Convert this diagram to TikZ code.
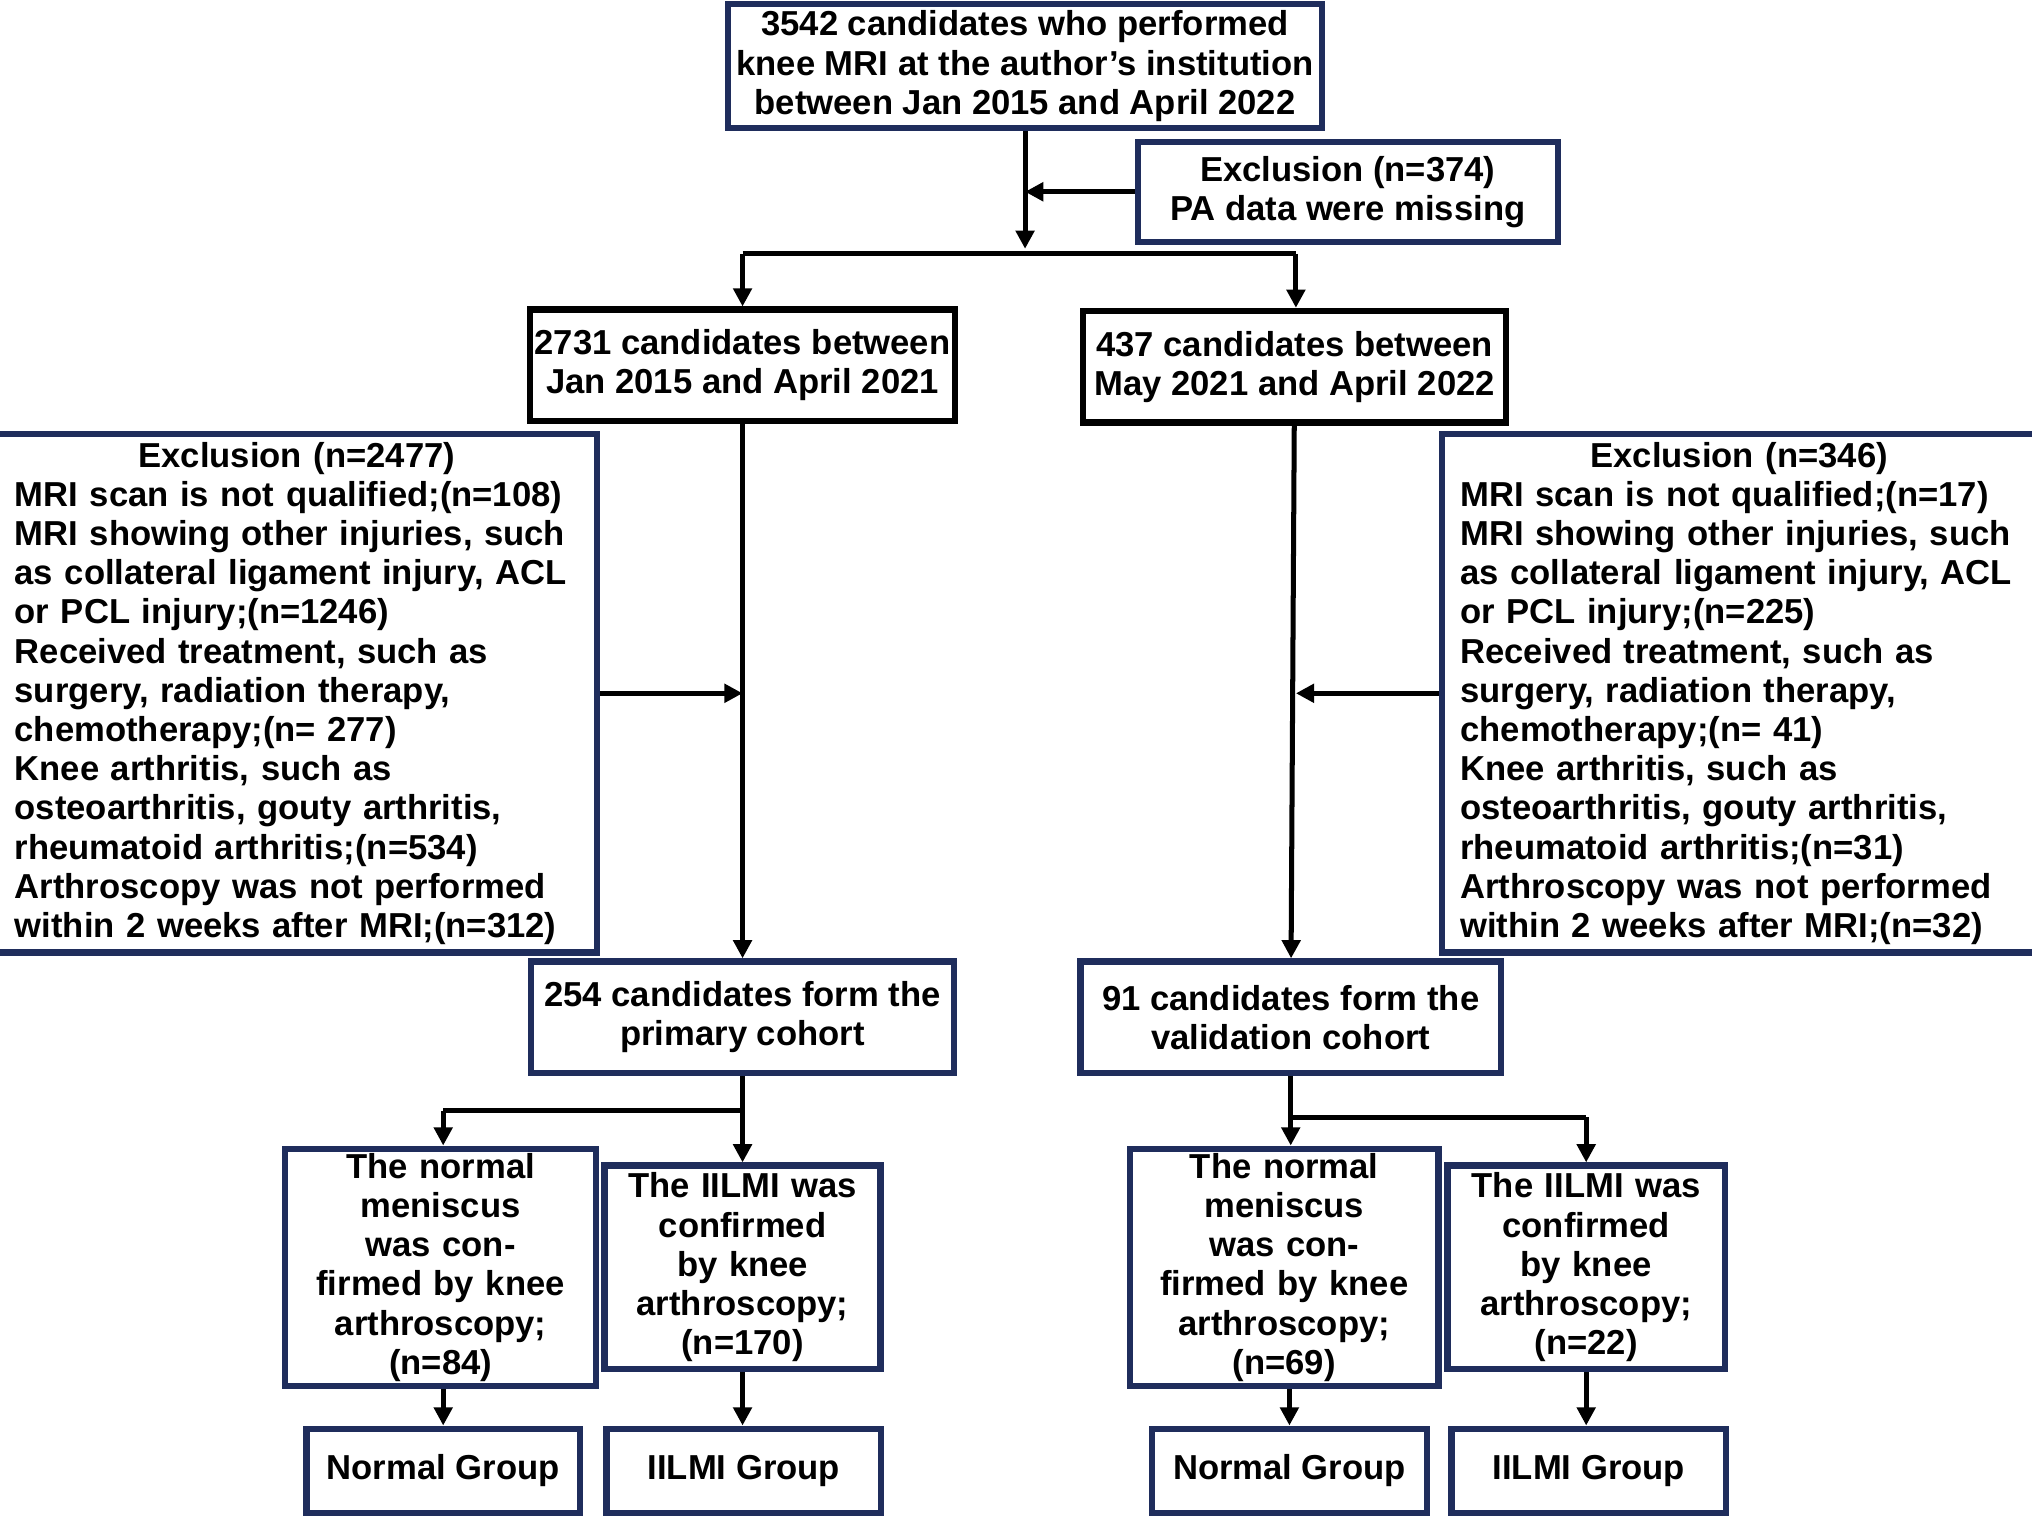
\documentclass[tikz,border=0pt]{standalone}
\usepackage{fontspec}
\setmainfont{Liberation Sans}
\usetikzlibrary{arrows.meta}
\definecolor{navy}{HTML}{1F2D5C}
\tikzset{box/.style={rectangle, draw=navy, line width=1.4pt, font=\fontsize{7.6}{8.6}\selectfont\bfseries, align=center, inner sep=1pt}}
\tikzset{lbox/.style={box, align=left, inner xsep=4pt}}
\tikzset{arr/.style={line width=1.1pt, -{Triangle[length=4pt,width=4pt]}}}
\tikzset{ln/.style={line width=1.1pt}}
\begin{document}
\begin{tikzpicture}[x=0.01cm,y=-0.01cm]
  \useasboundingbox (0,0) rectangle (1568,1171);

  \node[box, minimum width=4.58cm, minimum height=0.96cm] (top) at (791,51)
    {3542 candidates who performed\\knee MRI at the author's institution\\between Jan 2015 and April 2022};
  \node[box, minimum width=3.24cm, minimum height=0.77cm] (excl) at (1040,148)
    {Exclusion (n=374)\\PA data were missing};
  \node[box, draw=black, minimum width=3.26cm, minimum height=0.86cm] (early) at (573,282)
    {2731 candidates between\\Jan 2015 and April 2021};
  \node[box, draw=black, minimum width=3.26cm, minimum height=0.86cm] (late) at (999,283)
    {437 candidates between\\May 2021 and April 2022};

  \node[lbox, text width=4.35cm, minimum height=4.0cm] (exL) at (229,535)
    {\centering Exclusion (n=2477)\par\raggedright
     MRI scan is not qualified;(n=108)\\
     MRI showing other injuries, such as collateral ligament injury, ACL or PCL injury;(n=1246)\\
     Received treatment, such as surgery, radiation therapy, chemotherapy;(n= 277)\\
     Knee arthritis, such as osteoarthritis, gouty arthritis, rheumatoid arthritis;(n=534)\\
     Arthroscopy was not performed within 2 weeks after MRI;(n=312)};
  \node[lbox, text width=4.3cm, minimum height=4.0cm] (exR) at (1342,535)
    {\centering Exclusion (n=346)\par\raggedright
     MRI scan is not qualified;(n=17)\\
     MRI showing other injuries, such as collateral ligament injury, ACL or PCL injury;(n=225)\\
     Received treatment, such as surgery, radiation therapy, chemotherapy;(n= 41)\\
     Knee arthritis, such as osteoarthritis, gouty arthritis, rheumatoid arthritis;(n=31)\\
     Arthroscopy was not performed within 2 weeks after MRI;(n=32)};

  \node[box, minimum width=3.26cm, minimum height=0.86cm] (prim) at (573,785)
    {254 candidates form the\\primary cohort};
  \node[box, minimum width=3.24cm, minimum height=0.86cm] (valid) at (996,785)
    {91 candidates form the\\validation cohort};

  \node[box, text width=2.3cm, minimum width=2.4cm, minimum height=1.57cm] (pnorm) at (340,978)
    {The normal meniscus was confirmed by knee arthroscopy;\\(n=84)};
  \node[box, text width=2.0cm, minimum width=2.13cm, minimum height=1.57cm] (pilm) at (573,978)
    {The IILMI was confirmed by knee arthroscopy;\\(n=170)};
  \node[box, text width=2.3cm, minimum width=2.38cm, minimum height=1.57cm] (vnorm) at (991,978)
    {The normal meniscus was confirmed by knee arthroscopy;\\(n=69)};
  \node[box, text width=2.0cm, minimum width=2.14cm, minimum height=1.57cm] (vilm) at (1224,978)
    {The IILMI was confirmed by knee arthroscopy;\\(n=22)};

  \node[box, minimum width=2.11cm, minimum height=0.65cm] (png) at (342,1135) {Normal Group};
  \node[box, minimum width=2.12cm, minimum height=0.65cm] (pig) at (574,1135) {IILMI Group};
  \node[box, minimum width=2.12cm, minimum height=0.65cm] (vng) at (995,1135) {Normal Group};
  \node[box, minimum width=2.12cm, minimum height=0.65cm] (vig) at (1226,1135) {IILMI Group};

  % split after first exclusion
  \coordinate (m1) at (791,192);
  \coordinate (sL) at (573,196);
  \coordinate (sR) at (1000,196);
  \draw[arr] (top) -- (m1);
  \draw[arr] (excl.west) -- (791,148);
  \draw[ln] (sL) -- (sR);
  \draw[arr] (sL) -- (early.north);
  \draw[arr] (sR) -- (sR |- late.north);

  % cohorts
  \draw[arr] (early) -- (prim);
  \draw[arr] (late) -- (valid);
  \draw[arr] (exL.east) -- (573,535);
  \draw[arr] (exR.west) -- (1000,535);

  % groups
  \coordinate (pL) at (342,857);
  \coordinate (pR) at (573,857);
  \coordinate (vL) at (996,862);
  \coordinate (vR) at (1224,862);
  \draw[ln] (prim.south) -- (pR) -- (pL);
  \draw[arr] (pL) -- (pL |- pnorm.north);
  \draw[arr] (pR) -- (pilm.north);
  \draw[ln] (valid.south) -- (vL) -- (vR);
  \draw[arr] (vL) -- (vL |- vnorm.north);
  \draw[arr] (vR) -- (vilm.north);
  \draw[arr] (png |- pnorm.south) -- (png.north);
  \draw[arr] (pilm) -- (pilm |- pig.north);
  \draw[arr] (vng |- vnorm.south) -- (vng.north);
  \draw[arr] (vilm) -- (vilm |- vig.north);
\end{tikzpicture}
\end{document}
